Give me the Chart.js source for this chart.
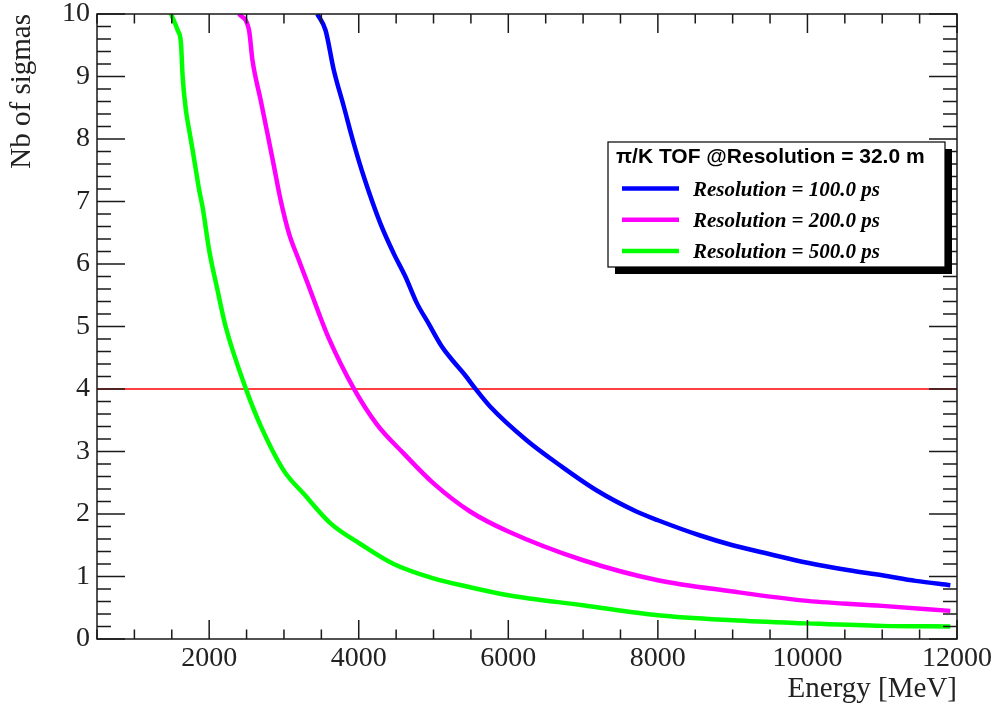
<!DOCTYPE html>
<html lang="en">
<head>
<meta charset="UTF-8">
<title>pi/K TOF separation</title>
<script src="https://cdn.jsdelivr.net/npm/chart.js"></script>
<style>
  body { margin: 0; background: #fff; }
  #wrap { width: 998px; height: 707px; }
</style>
</head>
<body>
<div id="wrap"><canvas id="tofChart" width="998" height="707"></canvas></div>
<script>
// values: energy in MeV, separation in number of sigmas
const energy100 = [3445, 3556, 3667, 3800, 3933, 4067, 4289, 4467, 4623, 4779, 4933, 5111, 5267, 5423, 5556, 5756, 6245, 6689, 7178, 7712, 8000, 8556, 9000, 9489, 10000, 10556, 11000, 11445, 11911];
const sigmas100 = [10.0, 9.74, 9.10, 8.52, 7.93, 7.40, 6.65, 6.17, 5.80, 5.37, 5.05, 4.68, 4.44, 4.22, 4.01, 3.72, 3.18, 2.78, 2.38, 2.04, 1.90, 1.66, 1.50, 1.36, 1.22, 1.10, 1.02, 0.93, 0.86];

const energy200 = [2400, 2533, 2579, 2689, 2779, 2867, 2956, 3067, 3200, 3333, 3467, 3600, 3933, 4245, 4600, 5000, 5489, 6000, 7000, 8000, 9000, 10000, 11000, 11911];
const sigmas200 = [10.0, 9.74, 9.26, 8.62, 8.09, 7.56, 7.02, 6.49, 6.06, 5.64, 5.21, 4.81, 4.01, 3.43, 2.97, 2.49, 2.04, 1.72, 1.26, 0.94, 0.76, 0.61, 0.53, 0.45];

const energy500 = [1489, 1579, 1623, 1645, 1689, 1733, 1779, 1823, 1867, 1912, 2000, 2112, 2220, 2489, 2689, 3000, 3267, 3623, 4023, 4467, 5000, 5445, 6000, 7000, 8000, 9000, 10000, 11000, 11911];
const sigmas500 = [10.0, 9.74, 9.53, 9.00, 8.46, 8.14, 7.82, 7.50, 7.18, 6.91, 6.22, 5.58, 5.00, 4.01, 3.41, 2.69, 2.32, 1.85, 1.52, 1.20, 0.97, 0.84, 0.70, 0.54, 0.38, 0.30, 0.25, 0.21, 0.20];

const seriesLabels = ['Resolution = 100.0 ps', 'Resolution = 200.0 ps', 'Resolution = 500.0 ps'];
const legendTitle = 'π/K TOF @Resolution = 32.0 m';
const xTicks = [2000, 4000, 6000, 8000, 10000, 12000];
const yTicks = [0, 1, 2, 3, 4, 5, 6, 7, 8, 9, 10];
const xRange = [500, 12000];
const cutLevel = 4;

const toPoints = (xs, ys) => xs.map((e, i) => ({ x: e, y: ys[i] }));

// ROOT style frame: box with inward ticks on all four sides
const rootFrame = {
    id: 'rootFrame',
    afterDatasetsDraw(chart) {
        const { ctx, chartArea: a, scales: { x, y } } = chart;
        ctx.save();
        ctx.strokeStyle = '#1a1a1a';
        ctx.lineWidth = 1.5;
        ctx.strokeRect(a.left, a.top, a.right - a.left, a.bottom - a.top);
        ctx.beginPath();
        for (let v = xRange[0]; v <= xRange[1]; v += 500) {
            const px = x.getPixelForValue(v);
            const len = v % 2000 === 0 ? 19 : 9.5;
            ctx.moveTo(px, a.bottom); ctx.lineTo(px, a.bottom - len);
            ctx.moveTo(px, a.top); ctx.lineTo(px, a.top + len);
        }
        for (let i = 0; i <= 50; i++) {
            const py = y.getPixelForValue(i / 5);
            const len = i % 5 === 0 ? 28 : 14;
            ctx.moveTo(a.left, py); ctx.lineTo(a.left + len, py);
            ctx.moveTo(a.right, py); ctx.lineTo(a.right - len, py);
        }
        ctx.stroke();
        ctx.restore();
    }
};

// boxed legend with drop shadow
const tofLegend = {
    id: 'tofLegend',
    afterDraw(chart) {
        const ctx = chart.ctx;
        const bx = 608, by = 142, bw = 337, bh = 125;
        ctx.save();
        ctx.fillStyle = '#000';
        ctx.fillRect(bx + 7, by + 7, bw, bh);
        ctx.fillStyle = '#fff';
        ctx.fillRect(bx, by, bw, bh);
        ctx.strokeStyle = '#000';
        ctx.lineWidth = 1.2;
        ctx.strokeRect(bx, by, bw, bh);
        ctx.fillStyle = '#000';
        ctx.font = 'bold 21px "Liberation Sans"';
        ctx.textBaseline = 'alphabetic';
        ctx.fillText(legendTitle, 616, 163);
        ctx.font = 'italic bold 21px "Liberation Serif"';
        chart.data.datasets.filter(d => d.inLegend).forEach((d, i) => {
            const yy = 188.5 + i * 31.3;
            ctx.strokeStyle = d.borderColor;
            ctx.lineWidth = 4.5;
            ctx.beginPath();
            ctx.moveTo(622, yy);
            ctx.lineTo(679, yy);
            ctx.stroke();
            ctx.fillText(d.label, 693, yy + 7);
        });
        ctx.restore();
    }
};

const ctx = document.getElementById('tofChart').getContext('2d');
const tofChart = new Chart(ctx, {
    type: 'line',
    data: {
        datasets: [
            { label: seriesLabels[0], data: toPoints(energy100, sigmas100), borderColor: '#0000ff', borderWidth: 4.5, inLegend: true },
            { label: seriesLabels[1], data: toPoints(energy200, sigmas200), borderColor: '#ff00ff', borderWidth: 4.5, inLegend: true },
            { label: seriesLabels[2], data: toPoints(energy500, sigmas500), borderColor: '#00ff00', borderWidth: 4.5, inLegend: true },
            { label: 'cut', data: toPoints(xRange, [cutLevel, cutLevel]), borderColor: '#ff0000', borderWidth: 1.5, inLegend: false }
        ]
    },
    options: {
        responsive: false,
        devicePixelRatio: 1,
        animation: false,
        layout: { padding: { top: 14, right: 40, left: 0, bottom: 0 } },
        plugins: { legend: { display: false }, tooltip: { enabled: false } },
        elements: {
            point: { radius: 0 },
            line: { cubicInterpolationMode: 'monotone' }
        },
        scales: {
            x: {
                type: 'linear',
                min: xRange[0],
                max: xRange[1],
                grid: { display: false, drawTicks: false },
                border: { display: false },
                afterBuildTicks: s => { s.ticks = xTicks.map(v => ({ value: v })); },
                afterFit: s => { s.height = 68; },
                ticks: {
                    font: { family: 'Liberation Serif', size: 28, lineHeight: 1 },
                    color: '#222', padding: 6, maxRotation: 0, autoSkip: false,
                    callback: v => String(v)
                },
                title: {
                    display: true, text: 'Energy [MeV]', align: 'end', color: '#222',
                    font: { family: 'Liberation Serif', size: 29, lineHeight: 1 },
                    padding: { top: 0, bottom: 3 }
                }
            },
            y: {
                type: 'linear',
                min: 0,
                max: 10,
                grid: { display: false, drawTicks: false },
                border: { display: false },
                afterBuildTicks: s => { s.ticks = yTicks.map(v => ({ value: v })); },
                afterFit: s => { s.width = 97; },
                ticks: {
                    font: { family: 'Liberation Serif', size: 28, lineHeight: 0.2 },
                    color: '#222', padding: 7, autoSkip: false
                },
                title: {
                    display: true, text: 'Nb of sigmas', align: 'end', color: '#222',
                    font: { family: 'Liberation Serif', size: 29, lineHeight: 1 },
                    padding: { top: 8, bottom: 0 }
                }
            }
        }
    },
    plugins: [rootFrame, tofLegend]
});
</script>
</body>
</html>
